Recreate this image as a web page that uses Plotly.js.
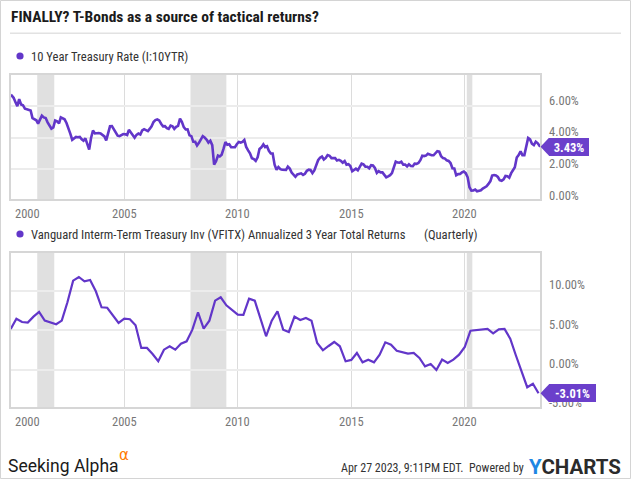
<!DOCTYPE html>
<html><head><meta charset="utf-8">
<script src="https://cdn.plot.ly/plotly-3.0.1.min.js"></script>
<style>html,body{margin:0;padding:0;background:#fff;} #chart{width:635px;height:480px;}</style>
</head><body><div id="chart"></div>
<script>
// ---------------- DATA ----------------
// 10 Year Treasury Rate, monthly readings (Jan 2000 .. Mar 2023) + last value on 2023-04-27
const rateValues = [
  6.72, 6.52, 6.26, 5.99, 6.44, 6.10, 6.05, 5.83, 5.80, 5.74, 5.72, 5.24, // 2000
  5.16, 5.10, 4.89, 5.14, 5.39, 5.28, 5.24, 4.97, 4.73, 4.57, 4.65, 5.09, // 2001
  5.04, 4.91, 5.28, 5.21, 5.16, 4.93, 4.65, 4.26, 3.87, 3.94, 4.05, 4.03, // 2002
  4.05, 3.90, 3.81, 3.96, 3.57, 3.25, 3.98, 4.45, 4.27, 4.29, 4.30, 4.27, // 2003
  4.15, 4.08, 3.83, 4.35, 4.72, 4.73, 4.50, 4.28, 4.13, 4.10, 4.19, 4.23, // 2004
  4.22, 4.17, 4.50, 4.34, 4.14, 4.00, 4.18, 4.26, 4.20, 4.46, 4.54, 4.47, // 2005
  4.42, 4.57, 4.72, 4.99, 5.11, 5.15, 5.09, 4.88, 4.72, 4.73, 4.60, 4.56, // 2006
  4.76, 4.72, 4.56, 4.69, 4.75, 5.20, 5.00, 4.67, 4.52, 4.53, 4.15, 4.10, // 2007
  3.74, 3.74, 3.51, 3.68, 3.88, 4.10, 4.01, 3.89, 3.69, 3.81, 3.53, 2.30, // 2008
  2.52, 2.87, 2.82, 2.93, 3.29, 3.72, 3.56, 3.59, 3.40, 3.39, 3.40, 3.59, // 2009
  3.73, 3.69, 3.73, 3.85, 3.42, 3.20, 3.01, 2.70, 2.65, 2.54, 2.76, 3.29, // 2010
  3.39, 3.58, 3.41, 3.46, 3.17, 3.00, 3.00, 2.30, 1.98, 2.15, 2.01, 1.98, // 2011
  1.97, 1.97, 2.17, 2.05, 1.80, 1.62, 1.53, 1.68, 1.72, 1.75, 1.65, 1.72, // 2012
  1.91, 1.98, 1.96, 1.76, 1.93, 2.30, 2.58, 2.74, 2.81, 2.62, 2.72, 2.90, // 2013
  2.86, 2.71, 2.72, 2.71, 2.56, 2.60, 2.54, 2.42, 2.53, 2.30, 2.33, 2.21, // 2014
  1.88, 1.98, 2.04, 1.94, 2.20, 2.36, 2.32, 2.17, 2.17, 2.07, 2.26, 2.24, // 2015
  2.09, 1.78, 1.89, 1.81, 1.81, 1.64, 1.50, 1.56, 1.63, 1.76, 2.14, 2.49, // 2016
  2.43, 2.42, 2.48, 2.30, 2.30, 2.19, 2.32, 2.21, 2.20, 2.36, 2.35, 2.40, // 2017
  2.58, 2.86, 2.84, 2.87, 2.98, 2.91, 2.89, 2.89, 3.00, 3.15, 3.12, 2.83, // 2018
  2.71, 2.68, 2.57, 2.53, 2.40, 2.07, 2.06, 1.63, 1.70, 1.71, 1.81, 1.86, // 2019
  1.76, 1.50, 0.87, 0.66, 0.67, 0.73, 0.62, 0.65, 0.68, 0.79, 0.87, 0.93, // 2020
  1.08, 1.26, 1.61, 1.64, 1.62, 1.52, 1.32, 1.28, 1.37, 1.58, 1.56, 1.47, // 2021
  1.76, 1.93, 2.13, 2.75, 2.90, 3.14, 2.90, 2.90, 3.52, 3.98, 3.89, 3.62, // 2022
  3.53, 3.75, 3.66,                                                       // 2023
  3.43                                                                    // 2023-04-27
];
const rateFirstDate = '2000-01-03';
const rateLastDate = '2023-04-27';

// Vanguard VFITX annualized 3-year total return, quarterly (quarter ends 1999-12-31 .. 2023-03-31)
const returnValues = [
  5.19, 6.50, 6.08, 6.00, 6.76, 7.36, 6.25, 6.00, 5.79, 6.25,
  8.60, 11.35, 11.82, 11.27, 11.44, 10.00, 7.96, 7.90, 7.00, 5.96,
  6.50, 6.43, 5.66, 2.77, 2.77, 2.00, 1.07, 2.55, 2.98, 2.55,
  3.32, 3.62, 5.10, 7.32, 5.23, 6.25, 8.80, 9.23, 8.21, 7.61,
  7.02, 6.98, 9.06, 8.80, 6.60, 4.26, 6.25, 7.45, 5.10, 4.81,
  6.76, 6.34, 6.60, 6.25, 3.40, 2.47, 3.02, 3.53, 2.98, 1.07,
  1.24, 2.13, 0.94, 1.28, 0.94, 1.91, 3.49, 3.19, 2.42, 2.22,
  2.04, 2.13, 1.49, 0.43, 0.73, -0.04, 1.28, 0.85, 1.28, 1.91,
  2.90, 4.97, 5.06, 5.06, 5.19, 4.64, 5.15, 5.19, 3.95, 1.84,
  -0.20, -2.24, -1.79, -3.01
];
const returnFirstQuarter = [1999, 4];

const yearTicks = ['2000-01-01', '2005-01-01', '2010-01-01', '2015-01-01', '2020-01-01'];
const yearTickText = ['2000', '2005', '2010', '2015', '2020'];
const rateTicks = [0, 2, 4, 6];
const rateTickText = ['0.00%', '2.00%', '4.00%', '6.00%'];
const returnTicks = [-5, 0, 5, 10];
const returnTickText = ['-5.00%', '0.00%', '5.00%', '10.00%'];
const recessions = [['2001-03-01', '2001-11-30'], ['2007-12-01', '2009-06-30'], ['2020-02-01', '2020-04-30']];

const titleText = 'FINALLY? T-Bonds as a source of tactical returns?';
const rateName = '10 Year Treasury Rate (I:10YTR)';
const returnName = 'Vanguard Interm-Term Treasury Inv (VFITX) Annualized 3 Year Total Returns';
const returnFreq = '(Quarterly)';
const stampText = 'Apr 27 2023, 9:11PM EDT.  Powered by';

// ---------------- BUILD ----------------
const pad = n => String(n).padStart(2, '0');
const rateDates = rateValues.map((v, i) => {
  if (i === 0) return rateFirstDate;
  if (i === rateValues.length - 1) return rateLastDate;
  const y = 2000 + Math.floor(i / 12), m = i % 12 + 1;
  return y + '-' + pad(m) + '-15';
});
const qEnd = ['03-31', '06-30', '09-30', '12-31'];
const returnDates = returnValues.map((v, i) => {
  const q = (returnFirstQuarter[1] - 1) + i;
  const y = returnFirstQuarter[0] + Math.floor(q / 4);
  return y + '-' + qEnd[q % 4];
});

const W = 635, H = 480;
const px = x => x / W, py = y => 1 - y / H;
const FONT = '"Roboto Condensed", "Liberation Sans Narrow", "Arial Narrow", Roboto, sans-serif';
const PURPLE = '#6236c9';
const TAG = '#6b3fcb';
const X0 = 10.8, X1 = 540.2;
const T0 = 75, T1 = 199.3, B0 = 253, B1 = 407.3;
const xRange = ['2000-01-01', '2023-04-27'];
const rateRange = [0.11, 7.96], retRange = [-4.80, 14.88];
const dom1 = [py(T1), py(T0)], dom2 = [py(B1), py(B0)];
const toPaper = (v, r, d) => d[0] + (v - r[0]) / (r[1] - r[0]) * (d[1] - d[0]);

const gridX = {type: 'date', range: xRange, domain: [px(X0), px(X1)], tickvals: yearTicks,
  showticklabels: false, ticks: '', showgrid: true, gridcolor: '#dcdcdc', gridwidth: 1,
  showline: true, mirror: true, linecolor: '#d6d6d6', linewidth: 2, zeroline: false, fixedrange: true};
const gridY = {showticklabels: false, ticks: '', showgrid: true, gridcolor: '#ececec', gridwidth: 2,
  showline: true, mirror: true, linecolor: '#d6d6d6', linewidth: 2, zeroline: false, fixedrange: true};

const traces = [
  {x: rateDates, y: rateValues, type: 'scatter', mode: 'lines', xaxis: 'x', yaxis: 'y',
   line: {color: PURPLE, width: 2.6, shape: 'linear'}, hoverinfo: 'skip'},
  {x: returnDates, y: returnValues, type: 'scatter', mode: 'lines', xaxis: 'x2', yaxis: 'y2',
   line: {color: PURPLE, width: 2.2}, hoverinfo: 'skip'}
];

const shapes = [];
// card border and title separator
shapes.push({type: 'rect', xref: 'paper', yref: 'paper', x0: px(0.5), x1: px(630.5), y0: py(478.5), y1: py(0.5),
  line: {color: '#d4d4d4', width: 1}, fillcolor: 'rgba(0,0,0,0)'});
shapes.push({type: 'line', xref: 'paper', yref: 'paper', x0: px(10), x1: px(621), y0: py(33.3), y1: py(33.3),
  line: {color: '#e2e2e2', width: 1.5}});
// recession bands
recessions.forEach(r => {
  ['y', 'y2'].forEach((ya, k) => {
    shapes.push({type: 'rect', xref: k ? 'x2' : 'x', yref: ya + ' domain', x0: r[0], x1: r[1], y0: 0, y1: 1,
      fillcolor: '#e0e0e0', line: {width: 0}, layer: 'below'});
  });
});
// legend dots
[56, 234].forEach(yy => {
  shapes.push({type: 'circle', xref: 'paper', yref: 'paper', xsizemode: 'pixel', ysizemode: 'pixel',
    xanchor: px(20), yanchor: py(yy), x0: -3.6, x1: 3.6, y0: -3.6, y1: 3.6,
    fillcolor: PURPLE, line: {width: 0}});
});
// tag pointers
const lastRate = rateValues[rateValues.length - 1];
const lastRet = returnValues[returnValues.length - 1];
[['y', lastRate], ['y2', lastRet]].forEach(([ya, v]) => {
  shapes.push({type: 'path', xref: 'paper', yref: ya, xsizemode: 'pixel', ysizemode: 'pixel',
    xanchor: px(540.5), yanchor: v, path: 'M0,0 L8.5,9 L8.5,-9 Z', fillcolor: TAG, line: {width: 0}, layer: 'above'});
});

const ann = [];
const txt = (text, x, y, opt) => Object.assign({text: text, xref: 'paper', yref: 'paper', x: px(x), y: py(y),
  xanchor: 'left', yanchor: 'middle', showarrow: false, font: {family: FONT, size: 12.6, color: '#333'}}, opt || {});
ann.push(txt('<b>' + titleText + '</b>', 9, 17, {font: {family: FONT, size: 15.5, color: '#1b1b1b'}}));
ann.push(txt(rateName, 29, 56));
ann.push(txt(returnName, 29, 234));
ann.push(txt(returnFreq, 421.5, 234));
// x tick labels
[[213.3], [421]].forEach(([yy], k) => {
  yearTicks.forEach((d, i) => {
    ann.push({text: yearTickText[i], xref: k ? 'x2' : 'x', x: d, xanchor: i === 0 ? 'left' : 'center', xshift: i === 0 ? 2 : 0,
      yref: 'paper', y: py(yy), yanchor: 'middle', showarrow: false,
      font: {family: FONT, size: 12.5, color: '#777'}});
  });
});
// y tick labels
rateTicks.forEach((v, i) => ann.push({text: rateTickText[i], xref: 'paper', x: px(546.5), xanchor: 'left',
  yref: 'paper', y: toPaper(v, rateRange, dom1), yshift: 6, yanchor: 'middle', showarrow: false,
  font: {family: FONT, size: 12.5, color: '#777'}}));
returnTicks.forEach((v, i) => ann.push({text: returnTickText[i], xref: 'paper', x: px(546.5), xanchor: 'left',
  yref: 'paper', y: toPaper(v, retRange, dom2), yshift: 6.3, yanchor: 'middle', showarrow: false,
  font: {family: FONT, size: 12.5, color: '#777'}}));
// value tags
ann.push({text: '<b>' + lastRate.toFixed(2) + '%</b>', xref: 'paper', x: px(548.5), xanchor: 'left', yref: 'y', y: lastRate,
  yanchor: 'middle', showarrow: false, bgcolor: TAG, width: 40, height: 18, borderpad: 0, borderwidth: 0, align: 'center',
  font: {family: FONT, size: 12.5, color: '#fff'}});
ann.push({text: '<b>' + lastRet.toFixed(2) + '%</b>', xref: 'paper', x: px(548.5), xanchor: 'left', yref: 'y2', y: lastRet,
  yanchor: 'middle', showarrow: false, bgcolor: TAG, width: 47, height: 18, borderpad: 0, borderwidth: 0, align: 'center',
  font: {family: FONT, size: 12.5, color: '#fff'}});
// footer
ann.push(txt('Seeking Alpha', 6, 466, {font: {family: 'Roboto, sans-serif', size: 17.5, color: '#1a1a1a'}}));
ann.push(txt('\u03b1', 117, 455, {font: {family: '"DejaVu Sans", sans-serif', size: 15, color: '#ff7a00'}}));
ann.push(txt(stampText, 526, 468, {xanchor: 'right', font: {family: FONT, size: 12, color: '#333'}}));
ann.push(txt('<b><span style="color:#1e86e3">Y</span>CHARTS</b>', 527, 467, {font: {family: 'Roboto, sans-serif', size: 20.5, color: '#2b2b2b'}}));

const layout = {
  width: W, height: H, margin: {l: 0, r: 0, t: 0, b: 0}, paper_bgcolor: '#fff', plot_bgcolor: '#fff',
  showlegend: false, hovermode: false,
  xaxis: Object.assign({}, gridX, {anchor: 'y'}),
  yaxis: Object.assign({}, gridY, {domain: dom1, range: rateRange, tickvals: rateTicks, anchor: 'x'}),
  xaxis2: Object.assign({}, gridX, {anchor: 'y2', matches: 'x'}),
  yaxis2: Object.assign({}, gridY, {domain: dom2, range: retRange, tickvals: returnTicks, anchor: 'x2'}),
  shapes: shapes, annotations: ann
};
Plotly.newPlot('chart', traces, layout, {staticPlot: true, displayModeBar: false});
</script></body></html>
